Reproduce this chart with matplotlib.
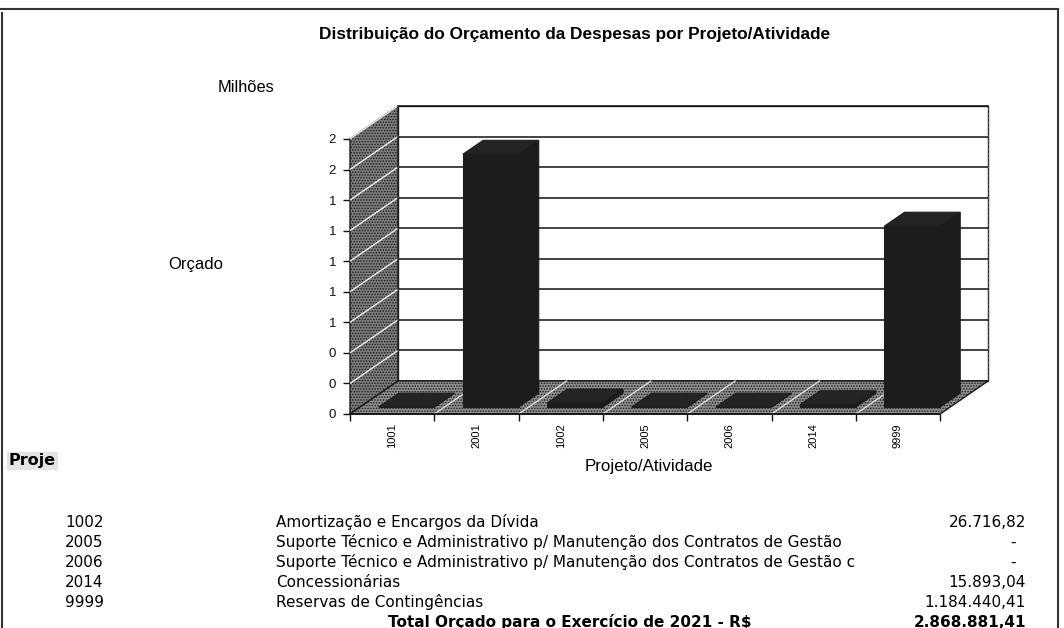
import numpy as np
import matplotlib
matplotlib.use('Agg')
import matplotlib.pyplot as plt
from matplotlib.patches import Polygon, Rectangle
from matplotlib.lines import Line2D

# ---------------- data ----------------
codes = ['1001', '2001', '1002', '2005', '2006', '2014', '9999']
orcado_milhoes = [0.0, 1.655, 0.0267, 0.0, 0.0, 0.0159, 1.1844]
ytick_values = [0.0, 0.2, 0.4, 0.6, 0.8, 1.0, 1.2, 1.4, 1.6, 1.8]
ytick_labels = ['0', '0', '0', '1', '1', '1', '1', '1', '2', '2']

title = 'Distribuição do Orçamento da Despesas por Projeto/Atividade'
units_label = 'Milhões'
y_label = 'Orçado'
x_label = 'Projeto/Atividade'

tabela_codigos = ['1002', '2005', '2006', '2014', '9999']
tabela_descricoes = [
    'Amortização e Encargos da Dívida',
    'Suporte Técnico e Administrativo p/ Manutenção dos Contratos de Gestão',
    'Suporte Técnico e Administrativo p/ Manutenção dos Contratos de Gestão com',
    'Concessionárias',
    'Reservas de Contingências',
]
tabela_valores = ['26.716,82', '-', '-', '15.893,04', '1.184.440,41']
total_rotulo = 'Total Orçado para o Exercício de 2021 - R$'
total_valor = '2.868.881,41'

# ---------------- layout ----------------
W, H = 1064, 628
fig = plt.figure(figsize=(W / 100, H / 100), dpi=100)
fig.patch.set_facecolor('white')

def fx(px):
    return px / W

def fy(py):
    return 1 - py / H

CAT_W = 84.3      # px per category on the front plane
VAL_S = 152.8     # px per million
X0, Y0 = 350, 414
RIGHT, TOP = 1000, 95
ax = fig.add_axes([fx(X0), fy(Y0), (RIGHT - X0) / W, (Y0 - TOP) / H])
ax.set_xlim(0, (RIGHT - X0) / CAT_W)
ax.set_ylim(0, (Y0 - TOP) / VAL_S)
ax.patch.set_alpha(0)
for s in ax.spines.values():
    s.set_visible(False)

n = len(codes)
ymax = 1.8
DX = 48 / CAT_W   # depth offset (data units)
DY = 33 / VAL_S

plt.rcParams['hatch.linewidth'] = 0.7
plt.rcParams['hatch.color'] = '#2a2a2a'

# left wall
ax.add_patch(Polygon([(0, 0), (0, ymax), (DX, ymax + DY), (DX, DY)], closed=True,
                     facecolor='#7c7c7c', edgecolor='#1a1a1a', lw=1.0, hatch='......',
                     zorder=1, clip_on=False))
for v in ytick_values[1:]:
    ax.add_line(Line2D([0, DX], [v, v + DY], color='#eeeeee', lw=1.0, zorder=2))

# back wall
ax.add_patch(Rectangle((DX, DY), n, ymax, facecolor='white', edgecolor='#222222',
                       lw=1.0, zorder=1, clip_on=False))
for v in ytick_values:
    ax.add_line(Line2D([DX, DX + n], [v + DY, v + DY], color='#111111', lw=1.1, zorder=2))
ax.add_line(Line2D([DX + n, DX + n], [DY, ymax + DY], color='#555555', lw=0.8,
                   ls=(0, (2, 2)), zorder=2))

# floor
ax.add_patch(Polygon([(0, 0), (n, 0), (n + DX, DY), (DX, DY)], closed=True,
                     facecolor='#8e8e8e', edgecolor='#1a1a1a', lw=1.0, hatch='......',
                     zorder=3, clip_on=False))
for i in range(1, n):
    ax.add_line(Line2D([i, i + DX], [0, DY], color='#e6e6e6', lw=0.9, zorder=3))

# bars
d0, d1 = 0.21, 0.63
b0, b1 = 0.22, 0.88
bar_col = '#1c1c1c'
for i, h in enumerate(orcado_milhoes):
    xl = i + b0 + d0 * DX
    xr = i + b1 + d0 * DX
    yb = d0 * DY
    sx = (d1 - d0) * DX
    sy = (d1 - d0) * DY
    front = Polygon([(xl, yb), (xr, yb), (xr, yb + h), (xl, yb + h)], closed=True,
                    facecolor=bar_col, edgecolor='#1c1c1c', lw=0.8, zorder=5)
    side = Polygon([(xr, yb), (xr + sx, yb + sy), (xr + sx, yb + sy + h), (xr, yb + h)],
                   closed=True, facecolor=bar_col, edgecolor='#1c1c1c', lw=0.8, zorder=5)
    topf = Polygon([(xl, yb + h), (xr, yb + h), (xr + sx, yb + sy + h), (xl + sx, yb + sy + h)],
                   closed=True, facecolor='#242424', edgecolor='#1c1c1c', lw=0.8, zorder=6)
    for p in (front, side, topf):
        ax.add_patch(p)

# front floor edge
ax.add_line(Line2D([0, n], [0, 0], color='#111111', lw=1.2, zorder=7, clip_on=False))

# ticks
ax.set_yticks(ytick_values, labels=ytick_labels)
ax.tick_params(axis='y', length=5, width=1, pad=5, labelsize=9.5, colors='#111111')
ax.set_xticks(np.arange(0, n + 1))
ax.set_xticklabels([''] * (n + 1))
ax.set_xticks(np.arange(n) + 0.5, labels=codes, minor=True)
ax.tick_params(axis='x', which='major', length=5, width=1, colors='#111111')
ax.tick_params(axis='x', which='minor', length=0, pad=7, labelsize=8, labelrotation=90)
for lab in ax.get_yticklabels() + ax.get_xticklabels(minor=True):
    lab.set_fontfamily('Liberation Sans')

# chart texts
sans = 'Liberation Sans'
fig.text(fx(575), fy(35), title, ha='center', va='center', fontsize=12.4,
         fontweight='bold', family=sans)
fig.text(fx(246), fy(88), units_label, ha='center', va='center', fontsize=11.8, family=sans)
fig.text(fx(196), fy(264), y_label, ha='center', va='center', fontsize=12, family=sans)
fig.text(fx(649), fy(466), x_label, ha='center', va='center', fontsize=12.2, family=sans)
fig.text(fx(9), fy(461), 'Proje', ha='left', va='center', fontsize=11.5,
         fontweight='bold', family='DejaVu Sans',
         bbox=dict(boxstyle='square,pad=0.1', facecolor='#e4e4e4', edgecolor='none',
                   hatch='.....'))

# table (baseline-aligned rows)
tfont = 'DejaVu Sans'
tsize = 11
row_base = [527, 547, 567, 587, 607]
total_base = 627
texts = []
for yy, c, d, v in zip(row_base, tabela_codigos, tabela_descricoes, tabela_valores):
    fig.text(fx(65), fy(yy), c, ha='left', va='baseline', fontsize=tsize, family=tfont)
    texts.append(fig.text(fx(276), fy(yy), d, ha='left', va='baseline', fontsize=tsize,
                          family=tfont))
    if v == '-':
        fig.text(fx(1016), fy(yy), v, ha='right', va='baseline', fontsize=tsize, family=tfont)
    else:
        fig.text(fx(1026), fy(yy), v, ha='right', va='baseline', fontsize=tsize, family=tfont)
fig.text(fx(570), fy(total_base), total_rotulo, ha='center', va='baseline', fontsize=tsize,
         fontweight='bold', family=tfont)
fig.text(fx(1026), fy(total_base), total_valor, ha='right', va='baseline', fontsize=tsize,
         fontweight='bold', family=tfont)

# the truncated description column: clip just after "Gestão c"
fig.canvas.draw()
r = fig.canvas.get_renderer()
end_px = texts[1].get_window_extent(r).x1
clip = Rectangle((0, 0), (end_px + 13) / W, 1, transform=fig.transFigure)
texts[2].set_clip_path(clip)

# page border
border = dict(color='#333333', lw=1.5, transform=fig.transFigure)
fig.add_artist(Line2D([0, fx(1058)], [fy(9), fy(9)], **border))
fig.add_artist(Line2D([fx(1.5), fx(1.5)], [fy(13), 0], **border))
fig.add_artist(Line2D([fx(1058), fx(1058)], [fy(9), 0], **border))

fig.savefig('out.png', dpi=100)
